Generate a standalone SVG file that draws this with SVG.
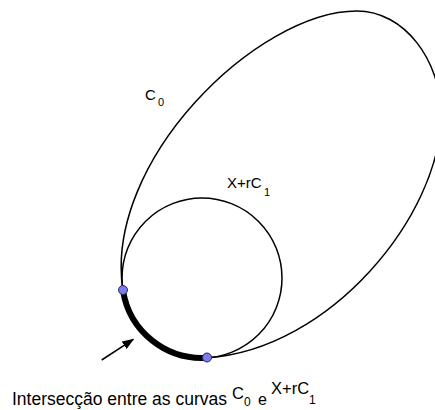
<svg xmlns="http://www.w3.org/2000/svg" width="435" height="410" viewBox="0 0 435 410">
  <defs>
    <style>
      .curve { fill: none; stroke: #000; stroke-width: 1.5; }
      .thick { fill: none; stroke: #000; stroke-width: 6; }
      .pt { fill: #7b7bf2; stroke: #2a2a50; stroke-width: 1; }
      .lbl { font-family: "Liberation Sans", Arial, sans-serif; fill: #000; }
    </style>
    <marker id="ah" markerWidth="12" markerHeight="9" refX="11" refY="4.5" orient="auto" markerUnits="userSpaceOnUse">
      <path d="M0,0 L12,4.5 L0,9 Z" fill="#000"/>
    </marker>
  </defs>
  <rect width="435" height="410" fill="#fff"/>

  <g id="C0">
    <path class="curve" d="M123,290.5 A80,80 0 0 0 207,357.8 C330,350 441,215 441,115 C441,60 404,11 357,11 C257,11 102.7,162 123,290.5 Z"/>
    <text class="lbl" x="145" y="100" font-size="15">C</text>
    <text class="lbl" x="158" y="106" font-size="11">0</text>
  </g>

  <g id="XrC1">
    <circle class="curve" cx="202" cy="278" r="80"/>
    <text class="lbl" x="227" y="188" font-size="15">X+rC</text>
    <text class="lbl" x="264" y="196" font-size="11">1</text>
  </g>

  <g id="intersection">
    <path class="thick" d="M123,290.5 A80,80 0 0 0 207,357.8"/>
    <circle class="pt" cx="123" cy="290" r="4.5"/>
    <circle class="pt" cx="207" cy="357.5" r="4.5"/>
  </g>

  <g id="connectors">
    <line x1="101.7" y1="360" x2="133.3" y2="339.3" stroke="#000" stroke-width="1.5" marker-end="url(#ah)"/>
  </g>

  <g id="caption">
    <text class="lbl" x="12" y="405" font-size="17.5">Intersecção entre as curvas</text>
    <text class="lbl" x="232" y="399" font-size="16.5">C</text>
    <text class="lbl" x="244" y="406" font-size="12">0</text>
    <text class="lbl" x="258" y="405" font-size="16">e</text>
    <text class="lbl" x="271" y="394" font-size="16.5">X+rC</text>
    <text class="lbl" x="309" y="404" font-size="12">1</text>
  </g>
</svg>
